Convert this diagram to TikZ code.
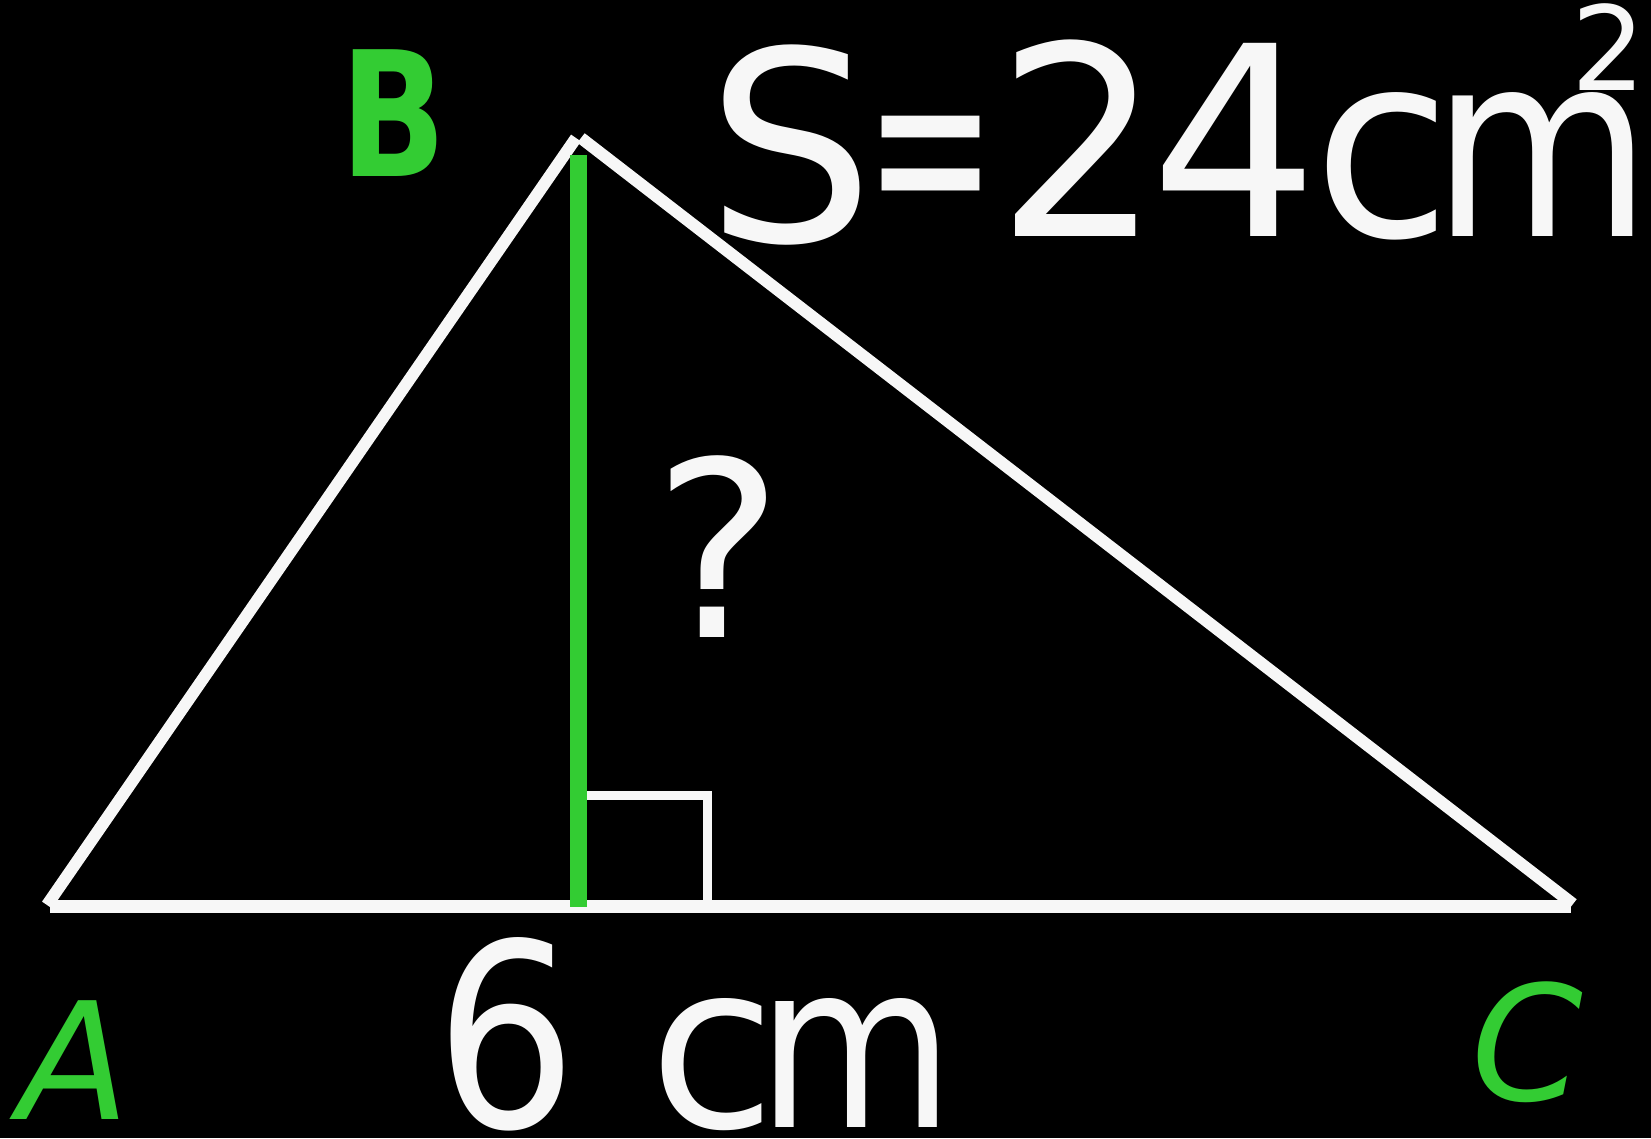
\documentclass[tikz,border=0pt]{standalone}
\usepackage{fontspec}
\usepackage{graphicx}
\setmainfont{DejaVu Sans}
\definecolor{chalk}{HTML}{F7F7F7}
\definecolor{leaf}{HTML}{33CC33}
\newcommand{\glyphslot}[4]{\makebox[#1pt][c]{\scalebox{#2}[#3]{#4}}}
\tikzset{
  side/.style={draw=chalk, line width=12pt, line cap=butt},
  basestroke/.style={draw=chalk, line width=13pt, line cap=butt},
  height/.style={draw=leaf, line width=17pt, line cap=butt},
  rightmark/.style={draw=chalk, line width=9pt, line cap=butt, line join=miter},
  whitetext/.style={text=chalk, inner sep=0pt},
  greentext/.style={text=leaf, inner sep=0pt},
}
\begin{document}
\begin{tikzpicture}[x=1pt,y=-1pt]
\fill[black] (0,0) rectangle (1651,1138);
\useasboundingbox (0,0) rectangle (1651,1138);
% vertices
\coordinate (A) at (47,905);
\coordinate (B1) at (576,138);
\coordinate (B2) at (581,138);
\coordinate (C) at (1573,904);
\coordinate (L) at (50,906.5);
\coordinate (R) at (1571,906.5);
\coordinate (Htop) at (578,155);
\coordinate (Hfoot) at (578,906.5);
\coordinate (Q1) at (586,795);
\coordinate (Q2) at (707,795);
\coordinate (Q3) at (707,902);
% right angle mark
\draw[rightmark] (Q1) -- (Q2) -- (Q3);
% triangle sides
\draw[side] (A) -- (B1);
\draw[side] (B2) -- (C);
\draw[basestroke] (L) -- (R);
% altitude
\draw[height] (Htop) -- (Hfoot);
% labels
\node[whitetext, anchor=base west] (area) at (722,236)
  {\fontsize{265}{265}\selectfont
   \glyphslot{136}{1.0}{1}{\raisebox{-5pt}{S}}\kern24pt
   \glyphslot{97}{0.59}{1}{=}\kern40pt
   \glyphslot{120}{0.98}{1}{2}\kern25pt
   \glyphslot{141}{1.0}{1}{4}\kern22pt
   \glyphslot{110}{0.95}{0.97}{c}\kern14pt
   \glyphslot{181}{0.85}{0.97}{m}};
\node[whitetext, anchor=base west] (sq) at (1571,90)
  {\fontsize{117}{117}\selectfont 2};
\node[whitetext, anchor=base west] (base) at (450,1127)
  {\fontsize{256}{256}\selectfont
   \glyphslot{113}{0.87}{1}{6}\kern-64pt\ \kern81pt
   \glyphslot{102}{0.9}{0.9}{c}\kern11pt
   \glyphslot{163}{0.79}{0.9}{m}};
\node[whitetext, anchor=base] (q) at (719,637)
  {\fontsize{245}{245}\selectfont ?};
\node[greentext, anchor=base] (la) at (74,1119)
  {\fontsize{163}{163}\selectfont\itshape A};
\node[greentext, anchor=base] (lb) at (394,176)
  {\scalebox{0.8}[1]{\fontsize{174}{174}\selectfont\bfseries B}};
\node[greentext, anchor=base] (lc) at (1527,1100)
  {\fontsize{160}{160}\selectfont\itshape C};
\end{tikzpicture}
\end{document}
